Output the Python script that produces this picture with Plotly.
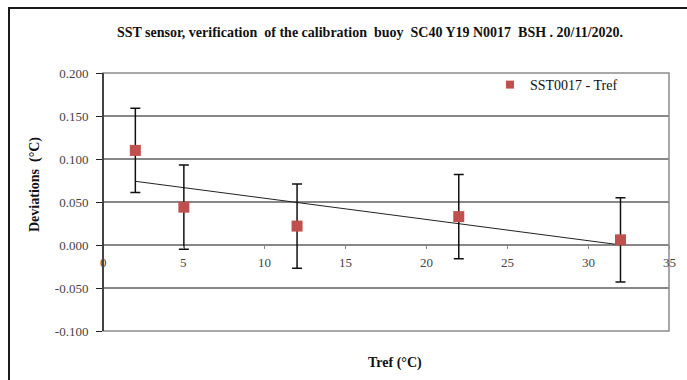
import numpy as np
import plotly.graph_objects as go

tref = [2, 5, 12, 22, 32]
deviation = [0.110, 0.044, 0.022, 0.033, 0.006]
uncertainty = [0.049, 0.049, 0.049, 0.049, 0.049]
series_name = "SST0017 - Tref"
y_ticks = [-0.100, -0.050, 0.000, 0.050, 0.100, 0.150, 0.200]
x_ticks = [0, 5, 10, 15, 20, 25, 30, 35]

W, H = 687, 380
L, R, T, B = 103, 18, 73, 49
pw, ph = W - L - R, H - T - B

slope, icpt = np.polyfit(tref, deviation, 1)
trend_x = [min(tref), max(tref)]
trend_y = [slope * v + icpt for v in trend_x]

serif = "Liberation Serif"
marker_color = "#C0504D"

fig = go.Figure()
fig.add_trace(go.Scatter(x=trend_x, y=trend_y, mode="lines",
                         line=dict(color="#222222", width=1), showlegend=False,
                         hoverinfo="skip"))
fig.add_trace(go.Scatter(
    x=tref, y=deviation, mode="markers", name=series_name, showlegend=False,
    marker=dict(symbol="square", size=11, color=marker_color),
    error_y=dict(type="data", array=uncertainty, visible=True,
                 color="#111111", thickness=1.5, width=5),
))
# legend entry (smaller symbol, as in the reference legend)
fig.add_trace(go.Scatter(x=[None], y=[None], mode="markers", name=series_name,
                         marker=dict(symbol="square", size=8, color=marker_color)))

def px_x(p):
    return (p - L) / pw

def px_y(p):
    return (H - B - p) / ph

shapes = []
for v in y_ticks[1:-1]:
    shapes.append(dict(type="line", xref="paper", yref="y", x0=0, x1=1, y0=v, y1=v,
                       line=dict(color="#111111", width=1), layer="below"))
shapes.append(dict(type="rect", xref="paper", yref="paper", x0=0, x1=1, y0=0, y1=1,
                   line=dict(color="#8c8c8c", width=1.5), layer="below"))
shapes.append(dict(type="line", xref="paper", yref="paper", x0=0, x1=0, y0=0, y1=1,
                   line=dict(color="#222222", width=1.5)))
shapes.append(dict(type="rect", xref="paper", yref="paper",
                   x0=px_x(9), x1=px_x(760), y0=px_y(460), y1=px_y(8),
                   line=dict(color="#1a1a1a", width=2)))

annotations = []
for v in x_ticks:
    annotations.append(dict(x=v, y=0, xref="x", yref="y", text=str(v), showarrow=False,
                            yanchor="top", xanchor="center", yshift=-8,
                            font=dict(family=serif, size=13, color="#444444")))
annotations.append(dict(x=px_x(395), y=px_y(363), xref="paper", yref="paper",
                        xanchor="center", yanchor="middle",
                        text="<b>Tref (°C)</b>", showarrow=False,
                        font=dict(family=serif, size=14, color="#111111")))
annotations.append(dict(x=px_x(35), y=px_y(185), xref="paper", yref="paper",
                        xanchor="center", yanchor="middle",
                        text="<b>Deviations  (°C)</b>", showarrow=False, textangle=-90,
                        font=dict(family=serif, size=14, color="#111111")))

fig.update_layout(
    width=W, height=H,
    margin=dict(l=L, r=R, t=T, b=B),
    paper_bgcolor="white", plot_bgcolor="white",
    title=dict(text="<b>SST sensor, verification  of the calibration  buoy  SC40 Y19 N0017  BSH . 20/11/2020.</b>",
               x=px_x(370), xanchor="center", xref="paper", y=1 - 32 / H, yanchor="middle",
               font=dict(family=serif, size=14, color="#111111")),
    xaxis=dict(range=[0, 35], tickvals=x_ticks, showticklabels=False, showgrid=False,
               zeroline=False, showline=False, ticks="outside", ticklen=3,
               tickcolor="#888888", anchor="free", position=1 / 3),
    yaxis=dict(range=[-0.1, 0.2], tickvals=y_ticks,
               ticktext=[f"{v:.3f}" for v in y_ticks],
               showgrid=False, zeroline=False, showline=False,
               ticks="outside", ticklen=6, tickcolor="#222222", ticklabelstandoff=5,
               tickfont=dict(family=serif, size=13, color="#444444")),
    shapes=shapes, annotations=annotations,
    legend=dict(x=px_x(490), y=px_y(69), xanchor="left", yanchor="top",
                bgcolor="rgba(0,0,0,0)", borderwidth=0,
                font=dict(family=serif, size=14, color="#111111")),
    showlegend=True,
)

fig.write_html("out.html")
